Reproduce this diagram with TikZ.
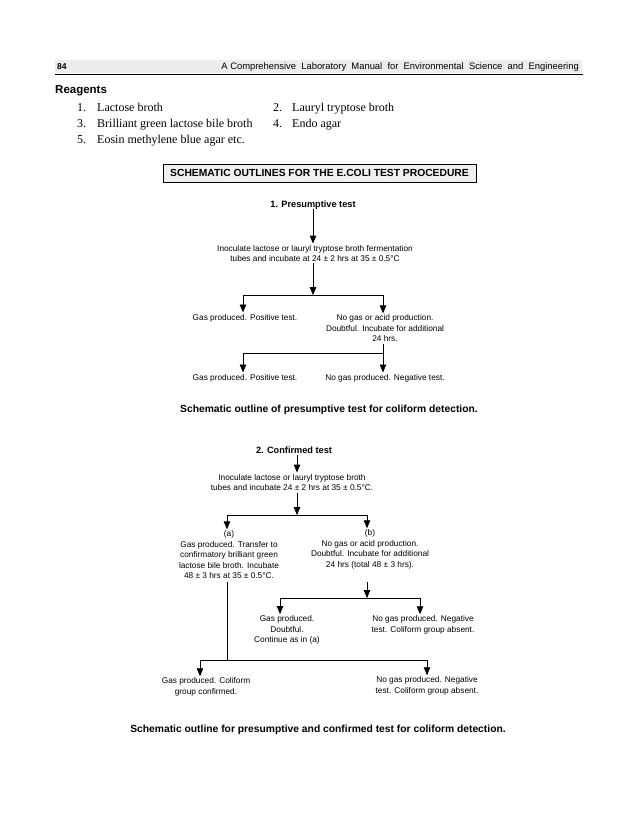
\documentclass[tikz,border=0pt]{standalone}
\usepackage{fontspec}
\setmainfont{Liberation Serif}
\setsansfont{Liberation Sans}
\usetikzlibrary{arrows}

\tikzset{
  txt/.style={font=\sffamily\fontsize{8.3}{10.5}\selectfont, align=center, inner sep=1.5pt},
  head/.style={font=\sffamily\bfseries\fontsize{9.2}{11}\selectfont, inner sep=1.5pt},
  capt/.style={font=\sffamily\bfseries\fontsize{10.3}{12}\selectfont, inner sep=0pt},
  item/.style={font=\rmfamily\fontsize{12}{14}\selectfont, anchor=base west, inner sep=0pt},
  arr/.style={-triangle 45, line width=.8pt},
  ln/.style={line width=.8pt}
}

\begin{document}
\begin{tikzpicture}[x=1pt,y=-1pt]
      \useasboundingbox (0,0) rectangle (638,826);

      % running head
      \fill[gray!14] (55,60) rectangle (582,73.5);
      \draw[line width=1.2pt] (55,74.5) -- (583,74.5);
      \node (page) at (57,67) [anchor=west, inner sep=0pt, font=\sffamily\bfseries\fontsize{8.5}{9}\selectfont] {84};
      \node (running) at (579,67) [anchor=east, inner sep=0pt, font=\sffamily\fontsize{9.4}{10}\selectfont] {A Comprehensive\ \ Laboratory\ \ Manual\ \ for\ \ Environmental\ \ Science\ \ and\ \ Engineering};

      % Reagents
      \node (reag) at (55,91) [anchor=west, inner sep=0pt, font=\sffamily\bfseries\fontsize{11.5}{13}\selectfont] {Reagents};
      \node (n1) at (77,112) [item] {1.};
      \node (r1) at (97,112) [item] {Lactose broth};
      \node (n2) at (273,112) [item] {2.};
      \node (r2) at (292,112) [item] {Lauryl tryptose broth};
      \node (n3) at (77,128) [item] {3.};
      \node (r3) at (97,128) [item] {Brilliant green lactose bile broth};
      \node (n4) at (273,128) [item] {4.};
      \node (r4) at (292,128) [item] {Endo agar};
      \node (n5) at (77,144) [item] {5.};
      \node (r5) at (97,144) [item] {Eosin methylene blue agar etc.};

      % title box
      \node (title) at (319.5,173.3) [draw, line width=.7pt, fill=gray!12, minimum width=313pt, minimum height=18.5pt,
        inner sep=0pt, font=\sffamily\bfseries\fontsize{10.3}{12}\selectfont] {SCHEMATIC OUTLINES FOR THE E.COLI TEST PROCEDURE};

      % 1. Presumptive test
      \node (p1) at (313,205) [head] {1. Presumptive test};
      \node (pinoc) at (315,253.5) [txt] {Inoculate lactose or lauryl tryptose broth fermentation\\tubes and incubate at 24 ± 2 hrs at 35 ± 0.5°C};
      \coordinate (pj1) at (313,295);
      \coordinate (pl1) at (243,295);
      \coordinate (pr1) at (383,295);
      \node (pgas1) at (245,318) [txt] {Gas produced. Positive test.};
      \node (pno1) at (385,328.5) [txt] {No gas or acid production.\\Doubtful. Incubate for additional\\24 hrs.};
      \coordinate (pj2) at (383,353);
      \coordinate (pl2) at (243,353);
      \node (pgas2) at (245,378) [txt] {Gas produced. Positive test.};
      \node (pneg2) at (385,378) [txt] {No gas produced. Negative test.};
      \draw[arr] (p1.south) ++(0,-2) -- (p1.south |- pinoc.north);
      \draw[arr] (p1.south |- pinoc.south) -- (pj1);
      \draw[ln] (pl1) -- (pr1);
      \draw[arr] (pl1) -- (pl1 |- pgas1.north);
      \draw[arr] (pr1) -- (pr1 |- pno1.north);
      \draw[ln] (pj2 |- pno1.south) -- (pj2) -- (pl2);
      \draw[arr] (pl2) -- (pl2 |- pgas2.north);
      \draw[arr] (pj2) -- (pj2 |- pneg2.north);
      \node (pcap) at (329,410) [capt] {Schematic outline of presumptive test for coliform detection.};

      % 2. Confirmed test
      \node (c1) at (294,450) [head] {2. Confirmed test};
      \node (cinoc) at (292,482.5) [txt] {Inoculate lactose or lauryl tryptose broth\\tubes and incubate 24 ± 2 hrs at 35 ± 0.5°C.};
      \coordinate (cj1) at (297,515);
      \coordinate (cl1) at (227,515);
      \coordinate (cr1) at (367,515);
      \node (ca) at (229,555) [txt] {(a)\\Gas produced. Transfer to\\confirmatory brilliant green\\lactose bile broth. Incubate\\48 ± 3 hrs at 35 ± 0.5°C.};
      \node (cb) at (370,549.5) [txt] {(b)\\No gas or acid production.\\Doubtful. Incubate for additional\\24 hrs (total 48 ± 3 hrs).};
      \draw[arr] (cj1 |- c1.south) -- (cj1 |- cinoc.north);
      \draw[arr] (cj1 |- cinoc.south) -- (cj1);
      \draw[ln] (cl1) -- (cr1);
      \draw[arr] (cl1) -- (cl1 |- ca.north);
      \draw[arr] (cr1) -- (cr1 |- cb.north);

      % (b) branch
      \coordinate (cbout) at (367,582);
      \coordinate (cj2) at (367,598);
      \coordinate (cl2) at (280,598);
      \coordinate (cr2) at (420,598);
      \node (cdoubt) at (287,630) [txt] {Gas produced.\\Doubtful.\\Continue as in (a)};
      \node (cneg1) at (423,625) [txt] {No gas produced. Negative\\test. Coliform group absent.};
      \draw[arr] (cbout) -- (cj2);
      \draw[ln] (cl2) -- (cr2);
      \draw[arr] (cl2) -- (cl2 |- cdoubt.north);
      \draw[arr] (cr2) -- (cr2 |- cneg1.north);

      % (a) branch
      \coordinate (caout) at (227,582);
      \coordinate (cj3) at (227,660);
      \coordinate (cl3) at (200,660);
      \coordinate (cr3) at (427,660);
      \node (cconf) at (206,687) [txt] {Gas produced. Coliform\\group confirmed.};
      \node (cneg2) at (427,686) [txt] {No gas produced. Negative\\test. Coliform group absent.};
      \draw[ln] (caout) -- (cj3);
      \draw[ln] (cl3) -- (cr3);
      \draw[arr] (cl3) -- (cl3 |- cconf.north);
      \draw[arr] (cr3) -- (cr3 |- cneg2.north);
      \node (ccap) at (318,730) [capt] {Schematic outline for presumptive and confirmed test for coliform detection.};

    \end{tikzpicture}
\end{document}
